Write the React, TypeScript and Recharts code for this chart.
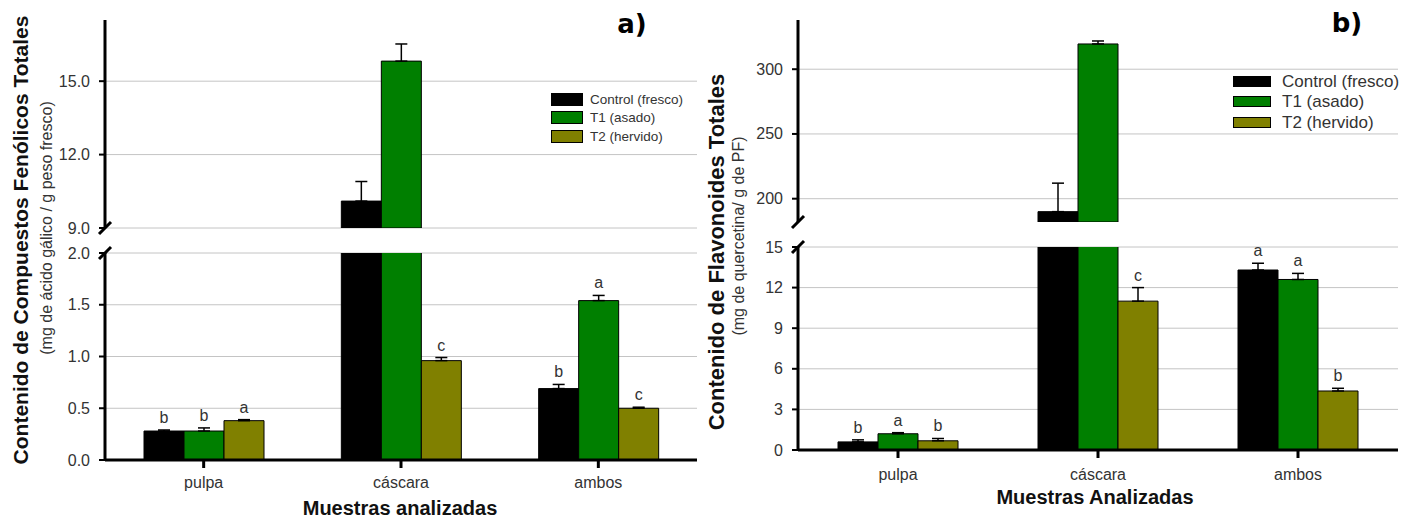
import React from 'react';
import { BarChart, Bar, XAxis, YAxis, CartesianGrid, ErrorBar, LabelList, Legend } from 'recharts';

const FONT = '"Liberation Sans", Arial, sans-serif';

const categories = ['pulpa', 'cáscara', 'ambos'];
const seriesNames = ['Control (fresco)', 'T1 (asado)', 'T2 (hervido)'];
const seriesColors = ['#000000', '#007f00', '#808000'];

// a) Compuestos fenólicos totales
const phenControl = [0.28, 10.1, 0.69];
const phenControlErr = [0.01, 0.8, 0.04];
const phenT1 = [0.28, 15.82, 1.54];
const phenT1Err = [0.03, 0.7, 0.05];
const phenT2 = [0.38, 0.96, 0.5];
const phenT2Err = [0.01, 0.03, 0.01];
const phenControlLetters = ['b', 'b', 'b'];
const phenT1Letters = ['b', 'a', 'a'];
const phenT2Letters = ['a', 'c', 'c'];
const phenLowerDomain = [0, 2];
const phenLowerTicks = [0, 0.5, 1.0, 1.5, 2.0];
const phenUpperDomain = [9, 17.5];
const phenUpperTicks = [9.0, 12.0, 15.0];

// b) Flavonoides totales
const flavControl = [0.6, 190, 13.3];
const flavControlErr = [0.15, 22, 0.5];
const flavT1 = [1.2, 319.5, 12.6];
const flavT1Err = [0.08, 2.3, 0.45];
const flavT2 = [0.68, 11.0, 4.36];
const flavT2Err = [0.17, 1.0, 0.2];
const flavControlLetters = ['b', 'b', 'a'];
const flavT1Letters = ['a', 'a', 'a'];
const flavT2Letters = ['b', 'c', 'b'];
const flavLowerDomain = [0, 15];
const flavLowerTicks = [0, 3, 6, 9, 12, 15];
const flavUpperDomain = [182, 338];
const flavUpperTicks = [200, 250, 300];

const TICK_SIZE = 6;
const TICK_MARGIN = 9;

function buildRows(values: number[][], errs: number[][], letters: string[][], segMin: number, segMax: number) {
  return categories.map((cat, i) => {
    const row: any = { cat };
    values.forEach((vals, s) => {
      const v = vals[i];
      const shown = v > segMin;
      const inside = shown && v <= segMax;
      row[`v${s}`] = shown ? v : null;
      row[`e${s}`] = inside ? [0, errs[s][i]] : null;
      row[`l${s}`] = inside ? letters[s][i] : null;
    });
    return row;
  });
}

function makeLetterContent(rows: any[], s: number, segMin: number) {
  return (props: any) => {
    const { index, value } = props;
    if (value == null || index == null) return null;
    const vb = props.viewBox || props;
    const row = rows[index];
    const v = row[`v${s}`];
    const e = row[`e${s}`];
    if (v == null || !vb || vb.height == null) return null;
    const h = Math.abs(vb.height);
    const top = Math.min(vb.y, vb.y + vb.height);
    const k = h / (v - segMin);
    const errTop = top - (e ? e[1] : 0) * k;
    return (
      <text x={vb.x + vb.width / 2} y={errTop - 7} textAnchor="middle" fontSize={16} fill="#333" fontFamily={FONT}>
        {value}
      </text>
    );
  };
}

function makeYTick(labelTicks: number[], breakValue: number, decimals: number) {
  return (props: any) => {
    const { x, y, payload } = props;
    const v = payload.value;
    const axisX = x + TICK_SIZE + TICK_MARGIN;
    const labeled = labelTicks.includes(v);
    return (
      <g>
        {labeled && (
          <line x1={axisX - TICK_SIZE} x2={axisX} y1={y} y2={y} stroke="#000" strokeWidth={2} />
        )}
        {labeled && (
          <text x={x} y={y} textAnchor="end" dominantBaseline="central" fontSize={16} fill="#333" fontFamily={FONT}>
            {v.toFixed(decimals)}
          </text>
        )}
        {v === breakValue && (
          <line x1={axisX - 6} y1={y + 6} x2={axisX + 6} y2={y - 6} stroke="#000" strokeWidth={3} />
        )}
      </g>
    );
  };
}

function makeLegendContent(fontSize: number, swW: number, swH: number, rowH: number, gap: number) {
  return (props: any) => {
    const payload = props.payload || [];
    return (
      <div style={{ fontFamily: FONT, fontSize, color: '#333', lineHeight: 1 }}>
        {payload.map((p: any, i: number) => (
          <div key={i} style={{ display: 'flex', alignItems: 'center', height: rowH, whiteSpace: 'nowrap' }}>
            <span
              style={{
                display: 'inline-block',
                width: swW,
                height: swH,
                background: p.color,
                border: '1px solid #000',
                boxSizing: 'border-box',
                marginRight: gap,
              }}
            />
            <span>{p.value}</span>
          </div>
        ))}
      </div>
    );
  };
}

type SegProps = {
  left: number;
  top: number;
  width: number;
  height: number;
  margin: { top: number; right: number; bottom: number; left: number };
  domain: number[];
  labelTicks: number[];
  breakValue: number;
  decimals: number;
  rows: any[];
  showX: boolean;
  xTickMargin?: number;
  legend?: { left: number; top: number; fontSize: number; swW: number; swH: number; rowH: number; gap: number };
};

function Segment(p: SegProps) {
  const axisTicks = Array.from(new Set([p.breakValue, ...p.labelTicks])).sort((a, b) => a - b);
  const segMin = p.domain[0];
  return (
    <div style={{ position: 'absolute', left: p.left, top: p.top, width: p.width, height: p.height }}>
      <BarChart width={p.width} height={p.height} data={p.rows} margin={p.margin} barGap={0}>
        <CartesianGrid vertical={false} stroke="#c4c4c4" horizontalValues={p.labelTicks} />
        {p.showX ? (
          <XAxis
            dataKey="cat"
            height={40}
            interval={0}
            tickSize={8}
            tickMargin={p.xTickMargin ?? 9}
            axisLine={{ stroke: '#000', strokeWidth: 3 }}
            tickLine={{ stroke: '#000', strokeWidth: 3 }}
            tick={{ fontSize: 16, fill: '#333', fontFamily: FONT }}
          />
        ) : (
          <XAxis dataKey="cat" hide />
        )}
        <YAxis
          type="number"
          width={55}
          domain={p.domain}
          ticks={axisTicks}
          interval={0}
          allowDataOverflow
          tickSize={TICK_SIZE}
          tickMargin={TICK_MARGIN}
          tickLine={false}
          axisLine={{ stroke: '#000', strokeWidth: 3 }}
          tick={makeYTick(p.labelTicks, p.breakValue, p.decimals)}
        />
        {p.legend && (
          <Legend
            layout="vertical"
            align="center"
            verticalAlign="middle"
            wrapperStyle={{ left: p.legend.left, top: p.legend.top, right: 'auto', bottom: 'auto', width: 'auto' }}
            content={makeLegendContent(p.legend.fontSize, p.legend.swW, p.legend.swH, p.legend.rowH, p.legend.gap)}
          />
        )}
        {seriesNames.map((name, s) => (
          <Bar
            key={name}
            dataKey={`v${s}`}
            name={name}
            fill={seriesColors[s]}
            stroke="#000"
            strokeWidth={1}
            barSize={40}
            isAnimationActive={false}
          >
            <ErrorBar dataKey={`e${s}`} width={6} stroke="#000" strokeWidth={1.5} direction="y" />
            <LabelList dataKey={`l${s}`} content={makeLetterContent(p.rows, s, segMin)} />
          </Bar>
        ))}
      </BarChart>
    </div>
  );
}

export default function App() {
  const phenVals = [phenControl, phenT1, phenT2];
  const phenErrs = [phenControlErr, phenT1Err, phenT2Err];
  const phenLetters = [phenControlLetters, phenT1Letters, phenT2Letters];
  const flavVals = [flavControl, flavT1, flavT2];
  const flavErrs = [flavControlErr, flavT1Err, flavT2Err];
  const flavLetters = [flavControlLetters, flavT1Letters, flavT2Letters];

  const phenUpperRows = buildRows(phenVals, phenErrs, phenLetters, phenUpperDomain[0], phenUpperDomain[1]);
  const phenLowerRows = buildRows(phenVals, phenErrs, phenLetters, phenLowerDomain[0], phenLowerDomain[1]);
  const flavUpperRows = buildRows(flavVals, flavErrs, flavLetters, flavUpperDomain[0], flavUpperDomain[1]);
  const flavLowerRows = buildRows(flavVals, flavErrs, flavLetters, flavLowerDomain[0], flavLowerDomain[1]);

  return (
    <div style={{ position: 'absolute', left: 0, top: 0, width: 1402, height: 520, background: '#fff', overflow: 'hidden' }}>
      {/* Panel a */}
      <Segment
        left={0}
        top={0}
        width={700}
        height={240}
        margin={{ top: 20, right: 3, bottom: 12, left: 50 }}
        domain={phenUpperDomain}
        labelTicks={phenUpperTicks}
        breakValue={phenUpperDomain[0]}
        decimals={1}
        rows={phenUpperRows}
        showX={false}
        legend={{ left: 551, top: 90, fontSize: 13.5, swW: 32, swH: 13, rowH: 18.5, gap: 7 }}
      />
      <Segment
        left={0}
        top={230}
        width={700}
        height={270}
        margin={{ top: 23, right: 3, bottom: 0, left: 50 }}
        domain={phenLowerDomain}
        labelTicks={phenLowerTicks}
        breakValue={phenLowerDomain[1]}
        decimals={1}
        rows={phenLowerRows}
        showX
        xTickMargin={9}
      />
      {/* Panel b */}
      <Segment
        left={700}
        top={0}
        width={702}
        height={234}
        margin={{ top: 20, right: 4, bottom: 12, left: 43 }}
        domain={flavUpperDomain}
        labelTicks={flavUpperTicks}
        breakValue={flavUpperDomain[0]}
        decimals={0}
        rows={flavUpperRows}
        showX={false}
        legend={{ left: 533, top: 71, fontSize: 17, swW: 38, swH: 11, rowH: 20.5, gap: 11 }}
      />
      <Segment
        left={700}
        top={230}
        width={702}
        height={260}
        margin={{ top: 17, right: 4, bottom: 0, left: 43 }}
        domain={flavLowerDomain}
        labelTicks={flavLowerTicks}
        breakValue={flavLowerDomain[1]}
        decimals={0}
        rows={flavLowerRows}
        showX
        xTickMargin={11}
      />
      <svg
        width={1402}
        height={520}
        style={{ position: 'absolute', left: 0, top: 0, pointerEvents: 'none' }}
      >
        <text x={20} y={240} transform="rotate(-90 20 240)" textAnchor="middle" dominantBaseline="central"
          fontFamily={FONT} fontWeight="bold" fontSize={21} fill="#111">
          Contenido de Compuestos Fenólicos Totales
        </text>
        <text x={46} y={228} transform="rotate(-90 46 228)" textAnchor="middle" dominantBaseline="central"
          fontFamily={FONT} fontSize={16} fill="#333">
          (mg de ácido gálico / g peso fresco)
        </text>
        <text x={400} y={508} textAnchor="middle" dominantBaseline="central"
          fontFamily={FONT} fontWeight="bold" fontSize={20} fill="#111">
          Muestras analizadas
        </text>
        <text x={632} y={33} textAnchor="middle" fontFamily='"DejaVu Sans", sans-serif' fontWeight="bold" fontSize={26} fill="#000">
          a)
        </text>
        <text x={716} y={252} transform="rotate(-90 716 252)" textAnchor="middle" dominantBaseline="central"
          fontFamily={FONT} fontWeight="bold" fontSize={22} fill="#111">
          Contenido de Flavonoides Totales
        </text>
        <text x={738} y={236} transform="rotate(-90 738 236)" textAnchor="middle" dominantBaseline="central"
          fontFamily={FONT} fontSize={16} fill="#333">
          (mg de quercetina/ g de PF)
        </text>
        <text x={1095} y={497} textAnchor="middle" dominantBaseline="central"
          fontFamily={FONT} fontWeight="bold" fontSize={20} fill="#111">
          Muestras Analizadas
        </text>
        <text x={1347} y={32} textAnchor="middle" fontFamily='"DejaVu Sans", sans-serif' fontWeight="bold" fontSize={26} fill="#000">
          b)
        </text>
      </svg>
    </div>
  );
}
